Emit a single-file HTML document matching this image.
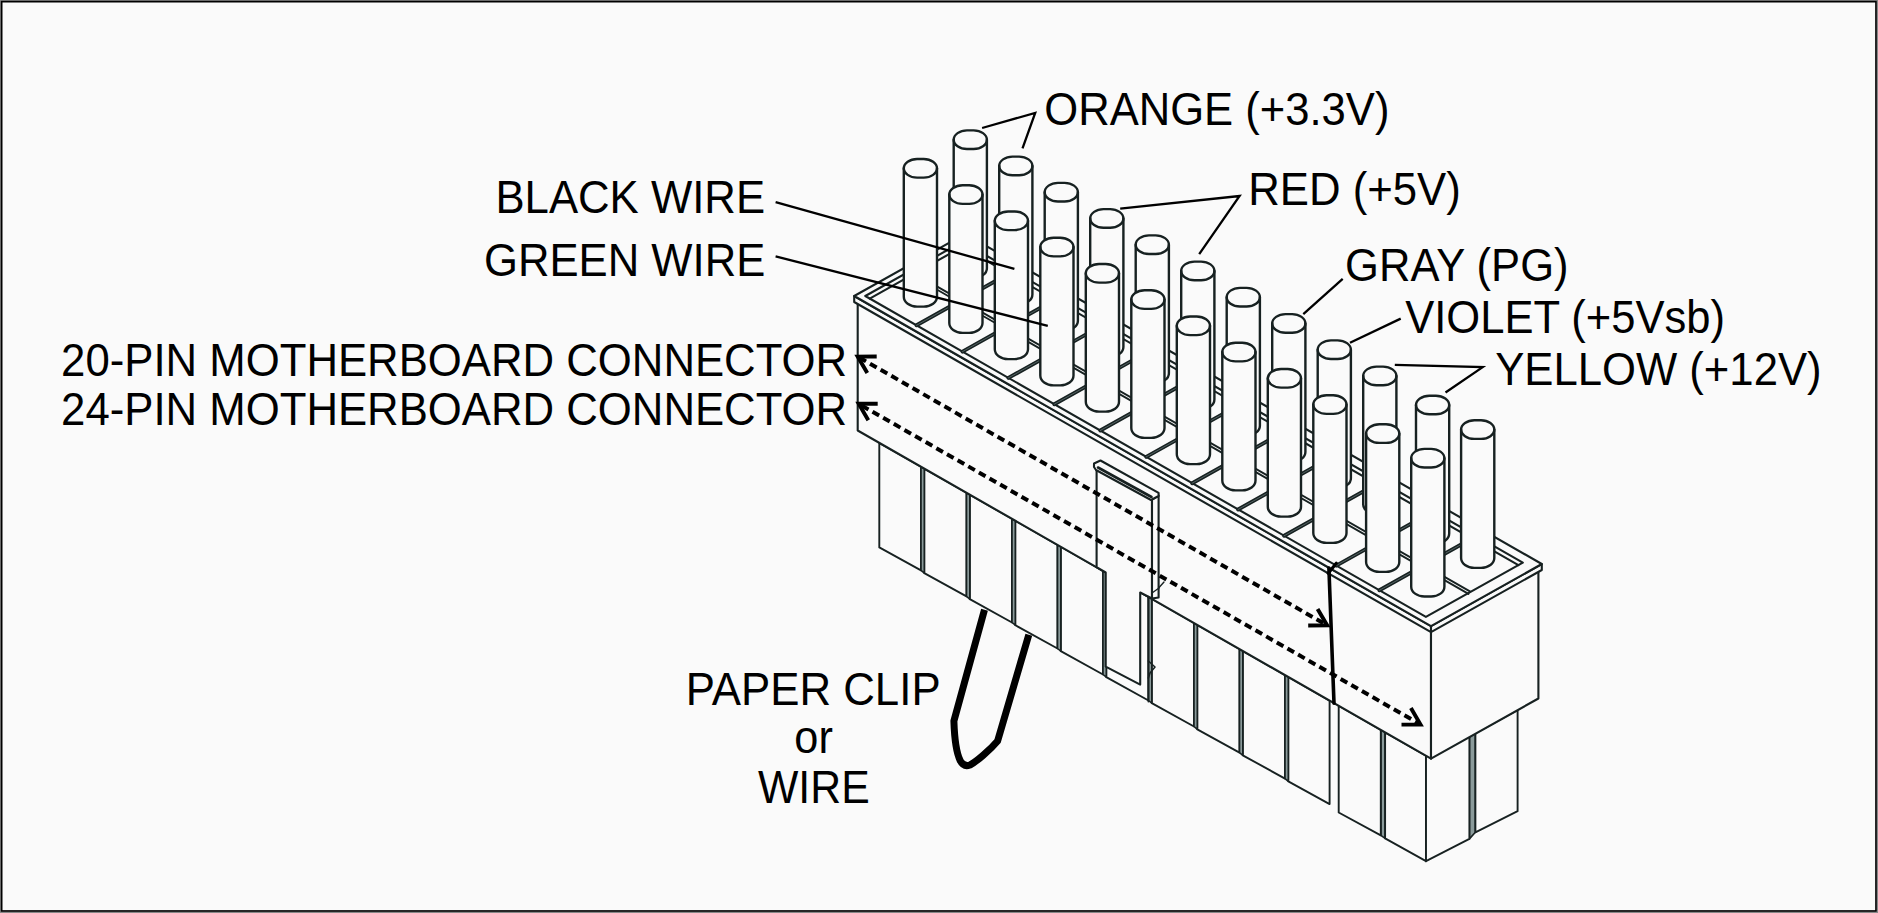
<!DOCTYPE html>
<html><head><meta charset="utf-8"><title>ATX 20/24-pin connector paper clip test</title>
<style>
html,body{margin:0;padding:0;background:#fafafa;}
body{width:1878px;height:913px;overflow:hidden;}
svg{display:block;}
text{font-family:"Liberation Sans",sans-serif;font-size:46px;fill:#000;}
</style></head><body>
<svg width="1878" height="913" viewBox="0 0 1878 913">
<rect x="0" y="0" width="1878" height="913" fill="#fafafa"/>
<rect x="0.5" y="0.5" width="1877" height="912" fill="none" stroke="#888" stroke-width="1"/>
<rect x="1.65" y="1.65" width="1874.35" height="909.35" fill="none" stroke="#000" stroke-width="1.7"/>
<path d="M879.3,442.9 L921.0,466.7 L921.0,570.4 L879.3,547.4 Z" stroke="#172121" stroke-width="1.9" fill="#fafafa" stroke-linejoin="round" stroke-linecap="round"/>
<path d="M924.3,468.6 L966.5,492.8 L966.5,596.4 L924.3,573.1 Z" stroke="#172121" stroke-width="1.9" fill="#fafafa" stroke-linejoin="round" stroke-linecap="round"/>
<path d="M969.8,494.7 L1012.0,518.8 L1012.0,622.5 L969.8,599.2 Z" stroke="#172121" stroke-width="1.9" fill="#fafafa" stroke-linejoin="round" stroke-linecap="round"/>
<path d="M1015.3,520.7 L1057.5,544.9 L1057.5,648.5 L1015.3,625.2 Z" stroke="#172121" stroke-width="1.9" fill="#fafafa" stroke-linejoin="round" stroke-linecap="round"/>
<path d="M1060.8,546.8 L1103.0,570.9 L1103.0,674.5 L1060.8,651.2 Z" stroke="#172121" stroke-width="1.9" fill="#fafafa" stroke-linejoin="round" stroke-linecap="round"/>
<path d="M1106.3,572.8 L1148.5,597.0 L1148.5,700.5 L1106.3,677.2 Z" stroke="#172121" stroke-width="1.9" fill="#fafafa" stroke-linejoin="round" stroke-linecap="round"/>
<path d="M1151.8,598.8 L1194.0,623.0 L1194.0,726.5 L1151.8,703.2 Z" stroke="#172121" stroke-width="1.9" fill="#fafafa" stroke-linejoin="round" stroke-linecap="round"/>
<path d="M1197.3,624.9 L1239.5,649.0 L1239.5,752.6 L1197.3,729.3 Z" stroke="#172121" stroke-width="1.9" fill="#fafafa" stroke-linejoin="round" stroke-linecap="round"/>
<path d="M1242.8,650.9 L1285.0,675.1 L1285.0,778.6 L1242.8,755.3 Z" stroke="#172121" stroke-width="1.9" fill="#fafafa" stroke-linejoin="round" stroke-linecap="round"/>
<path d="M1288.3,677.0 L1329.6,700.6 L1329.6,804.1 L1288.3,781.3 Z" stroke="#172121" stroke-width="1.9" fill="#fafafa" stroke-linejoin="round" stroke-linecap="round"/>
<path d="M921.0,466.7 L924.3,468.6 L924.3,573.1 L921.0,570.4 Z" stroke="#172121" stroke-width="1.6" fill="#8a9a9a" stroke-linejoin="round" stroke-linecap="round"/>
<path d="M966.5,492.8 L969.8,494.7 L969.8,599.2 L966.5,596.4 Z" stroke="#172121" stroke-width="1.6" fill="#8a9a9a" stroke-linejoin="round" stroke-linecap="round"/>
<path d="M1012.0,518.8 L1015.3,520.7 L1015.3,625.2 L1012.0,622.5 Z" stroke="#172121" stroke-width="1.6" fill="#8a9a9a" stroke-linejoin="round" stroke-linecap="round"/>
<path d="M1057.5,544.9 L1060.8,546.8 L1060.8,651.2 L1057.5,648.5 Z" stroke="#172121" stroke-width="1.6" fill="#8a9a9a" stroke-linejoin="round" stroke-linecap="round"/>
<path d="M1103.0,570.9 L1106.3,572.8 L1106.3,677.2 L1103.0,674.5 Z" stroke="#172121" stroke-width="1.6" fill="#8a9a9a" stroke-linejoin="round" stroke-linecap="round"/>
<path d="M1148.5,597.0 L1151.8,598.8 L1151.8,703.2 L1148.5,700.5 Z" stroke="#172121" stroke-width="1.6" fill="#8a9a9a" stroke-linejoin="round" stroke-linecap="round"/>
<path d="M1194.0,623.0 L1197.3,624.9 L1197.3,729.3 L1194.0,726.5 Z" stroke="#172121" stroke-width="1.6" fill="#8a9a9a" stroke-linejoin="round" stroke-linecap="round"/>
<path d="M1239.5,649.0 L1242.8,650.9 L1242.8,755.3 L1239.5,752.6 Z" stroke="#172121" stroke-width="1.6" fill="#8a9a9a" stroke-linejoin="round" stroke-linecap="round"/>
<path d="M1285.0,675.1 L1288.3,677.0 L1288.3,781.3 L1285.0,778.6 Z" stroke="#172121" stroke-width="1.6" fill="#8a9a9a" stroke-linejoin="round" stroke-linecap="round"/>
<path d="M1380.8,729.9 L1385.1,732.4 L1385.1,838.4 L1380.8,835.3 Z" stroke="#172121" stroke-width="1.6" fill="#8a9a9a" stroke-linejoin="round" stroke-linecap="round"/>
<path d="M1469.4,736.4 L1475.4,733.1 L1475.4,832.3 L1469.4,838.9 Z" stroke="#172121" stroke-width="1.6" fill="#8a9a9a" stroke-linejoin="round" stroke-linecap="round"/>
<path d="M1338.7,705.8 L1380.8,729.9 L1380.8,835.3 L1338.7,812.5 Z" stroke="#172121" stroke-width="1.9" fill="#fafafa" stroke-linejoin="round" stroke-linecap="round"/>
<path d="M1385.1,732.4 L1426.0,755.8 L1426.0,861.2 L1385.1,838.4 Z" stroke="#172121" stroke-width="1.9" fill="#fafafa" stroke-linejoin="round" stroke-linecap="round"/>
<path d="M1426.0,755.8 L1469.4,736.4 L1469.4,838.9 L1426.0,861.2 Z" stroke="#172121" stroke-width="1.9" fill="#fafafa" stroke-linejoin="round" stroke-linecap="round"/>
<path d="M1475.4,733.1 L1517.6,709.9 L1517.6,811.2 L1475.4,832.3 Z" stroke="#172121" stroke-width="1.9" fill="#fafafa" stroke-linejoin="round" stroke-linecap="round"/>
<path d="M857.7,430.5 L1431.0,758.7 L1431.0,630.2 L857.7,302.0 Z" stroke="#172121" stroke-width="2.1" fill="#fafafa" stroke-linejoin="round" stroke-linecap="round"/>
<path d="M1431.0,758.7 L1538.4,698.5 L1538.4,570.0 L1431.0,630.2 Z" stroke="#172121" stroke-width="2.1" fill="#fafafa" stroke-linejoin="round" stroke-linecap="round"/>
<path d="M854.2,302.0 L1431.0,632.1 L1431.0,626.1 L854.2,296.0 Z" stroke="#172121" stroke-width="2.1" fill="#fafafa" stroke-linejoin="round" stroke-linecap="round"/>
<path d="M1431.0,632.1 L1541.8,570.0 L1541.8,564.0 L1431.0,626.1 Z" stroke="#172121" stroke-width="2.1" fill="#fafafa" stroke-linejoin="round" stroke-linecap="round"/>
<path d="M854.2,296.0 L1431.0,626.1 L1541.8,564.0 L965.1,233.9 Z" stroke="#172121" stroke-width="2.1" fill="#fafafa" stroke-linejoin="round" stroke-linecap="round"/>
<path d="M865.3,296.0 L1425.9,616.9 L1522.8,562.6 L962.2,241.8 Z" stroke="#172121" stroke-width="2.1" fill="none" stroke-linejoin="round" stroke-linecap="round"/>
<path d="M869.7,298.6 L962.2,246.8 L1518.4,565.1" stroke="#172121" stroke-width="2.1" fill="none" stroke-linejoin="round" stroke-linecap="round"/>
<path d="M962.2,246.8 L962.2,241.8" stroke="#172121" stroke-width="2.1" fill="none" stroke-linejoin="round" stroke-linecap="round"/>
<path d="M916.5,325.3 L1009.0,273.5" stroke="#172121" stroke-width="3.9" fill="none" stroke-linejoin="round" stroke-linecap="round"/>
<path d="M916.5,325.3 L1009.0,273.5" stroke="#6f8080" stroke-width="0.7" fill="none" stroke-linejoin="round" stroke-linecap="round"/>
<path d="M962.5,351.6 L1054.9,299.8" stroke="#172121" stroke-width="3.9" fill="none" stroke-linejoin="round" stroke-linecap="round"/>
<path d="M962.5,351.6 L1054.9,299.8" stroke="#6f8080" stroke-width="0.7" fill="none" stroke-linejoin="round" stroke-linecap="round"/>
<path d="M1008.4,377.9 L1100.9,326.1" stroke="#172121" stroke-width="3.9" fill="none" stroke-linejoin="round" stroke-linecap="round"/>
<path d="M1008.4,377.9 L1100.9,326.1" stroke="#6f8080" stroke-width="0.7" fill="none" stroke-linejoin="round" stroke-linecap="round"/>
<path d="M1054.3,404.2 L1146.8,352.4" stroke="#172121" stroke-width="3.9" fill="none" stroke-linejoin="round" stroke-linecap="round"/>
<path d="M1054.3,404.2 L1146.8,352.4" stroke="#6f8080" stroke-width="0.7" fill="none" stroke-linejoin="round" stroke-linecap="round"/>
<path d="M1100.3,430.5 L1192.8,378.8" stroke="#172121" stroke-width="3.9" fill="none" stroke-linejoin="round" stroke-linecap="round"/>
<path d="M1100.3,430.5 L1192.8,378.8" stroke="#6f8080" stroke-width="0.7" fill="none" stroke-linejoin="round" stroke-linecap="round"/>
<path d="M1146.2,456.9 L1238.7,405.1" stroke="#172121" stroke-width="3.9" fill="none" stroke-linejoin="round" stroke-linecap="round"/>
<path d="M1146.2,456.9 L1238.7,405.1" stroke="#6f8080" stroke-width="0.7" fill="none" stroke-linejoin="round" stroke-linecap="round"/>
<path d="M1192.2,483.2 L1284.7,431.4" stroke="#172121" stroke-width="3.9" fill="none" stroke-linejoin="round" stroke-linecap="round"/>
<path d="M1192.2,483.2 L1284.7,431.4" stroke="#6f8080" stroke-width="0.7" fill="none" stroke-linejoin="round" stroke-linecap="round"/>
<path d="M1238.1,509.5 L1330.6,457.7" stroke="#172121" stroke-width="3.9" fill="none" stroke-linejoin="round" stroke-linecap="round"/>
<path d="M1238.1,509.5 L1330.6,457.7" stroke="#6f8080" stroke-width="0.7" fill="none" stroke-linejoin="round" stroke-linecap="round"/>
<path d="M1284.1,535.8 L1376.6,484.0" stroke="#172121" stroke-width="3.9" fill="none" stroke-linejoin="round" stroke-linecap="round"/>
<path d="M1284.1,535.8 L1376.6,484.0" stroke="#6f8080" stroke-width="0.7" fill="none" stroke-linejoin="round" stroke-linecap="round"/>
<path d="M1336.3,565.6 L1428.8,513.8" stroke="#172121" stroke-width="3.9" fill="none" stroke-linejoin="round" stroke-linecap="round"/>
<path d="M1336.3,565.6 L1428.8,513.8" stroke="#6f8080" stroke-width="0.7" fill="none" stroke-linejoin="round" stroke-linecap="round"/>
<path d="M1379.4,590.3 L1471.9,538.5" stroke="#172121" stroke-width="3.9" fill="none" stroke-linejoin="round" stroke-linecap="round"/>
<path d="M1379.4,590.3 L1471.9,538.5" stroke="#6f8080" stroke-width="0.7" fill="none" stroke-linejoin="round" stroke-linecap="round"/>
<path d="M913.7,273.1 L1469.9,591.4" stroke="#172121" stroke-width="1.9" fill="none" stroke-linejoin="round" stroke-linecap="round"/>
<path d="M912.3,275.5 L1468.5,593.9" stroke="#172121" stroke-width="1.9" fill="none" stroke-linejoin="round" stroke-linecap="round"/>
<path d="M953.70,139.70 L953.70,268.20 C953.70,273.61 959.65,278.00 966.98,278.00 L973.62,278.00 C980.95,278.00 986.90,273.61 986.90,268.20 L986.90,139.70 C986.90,134.57 980.95,130.40 973.62,130.40 L966.98,130.40 C959.65,130.40 953.70,134.57 953.70,139.70 Z" stroke="#172121" stroke-width="2.4" fill="#fafafa" stroke-linejoin="round" stroke-linecap="round"/>
<path d="M953.70,139.70 C953.70,144.83 959.65,149.00 966.98,149.00 L973.62,149.00 C980.95,149.00 986.90,144.83 986.90,139.70" stroke="#172121" stroke-width="2.4" fill="none" stroke-linejoin="round" stroke-linecap="round"/>
<path d="M999.20,165.95 L999.20,294.45 C999.20,299.86 1005.15,304.25 1012.48,304.25 L1019.12,304.25 C1026.45,304.25 1032.40,299.86 1032.40,294.45 L1032.40,165.95 C1032.40,160.82 1026.45,156.65 1019.12,156.65 L1012.48,156.65 C1005.15,156.65 999.20,160.82 999.20,165.95 Z" stroke="#172121" stroke-width="2.4" fill="#fafafa" stroke-linejoin="round" stroke-linecap="round"/>
<path d="M999.20,165.95 C999.20,171.08 1005.15,175.25 1012.48,175.25 L1019.12,175.25 C1026.45,175.25 1032.40,171.08 1032.40,165.95" stroke="#172121" stroke-width="2.4" fill="none" stroke-linejoin="round" stroke-linecap="round"/>
<path d="M1044.70,192.20 L1044.70,320.70 C1044.70,326.11 1050.65,330.50 1057.98,330.50 L1064.62,330.50 C1071.95,330.50 1077.90,326.11 1077.90,320.70 L1077.90,192.20 C1077.90,187.07 1071.95,182.90 1064.62,182.90 L1057.98,182.90 C1050.65,182.90 1044.70,187.07 1044.70,192.20 Z" stroke="#172121" stroke-width="2.4" fill="#fafafa" stroke-linejoin="round" stroke-linecap="round"/>
<path d="M1044.70,192.20 C1044.70,197.33 1050.65,201.50 1057.98,201.50 L1064.62,201.50 C1071.95,201.50 1077.90,197.33 1077.90,192.20" stroke="#172121" stroke-width="2.4" fill="none" stroke-linejoin="round" stroke-linecap="round"/>
<path d="M1090.20,218.45 L1090.20,346.95 C1090.20,352.36 1096.15,356.75 1103.48,356.75 L1110.12,356.75 C1117.45,356.75 1123.40,352.36 1123.40,346.95 L1123.40,218.45 C1123.40,213.32 1117.45,209.15 1110.12,209.15 L1103.48,209.15 C1096.15,209.15 1090.20,213.32 1090.20,218.45 Z" stroke="#172121" stroke-width="2.4" fill="#fafafa" stroke-linejoin="round" stroke-linecap="round"/>
<path d="M1090.20,218.45 C1090.20,223.58 1096.15,227.75 1103.48,227.75 L1110.12,227.75 C1117.45,227.75 1123.40,223.58 1123.40,218.45" stroke="#172121" stroke-width="2.4" fill="none" stroke-linejoin="round" stroke-linecap="round"/>
<path d="M1135.70,244.70 L1135.70,373.20 C1135.70,378.61 1141.65,383.00 1148.98,383.00 L1155.62,383.00 C1162.95,383.00 1168.90,378.61 1168.90,373.20 L1168.90,244.70 C1168.90,239.57 1162.95,235.40 1155.62,235.40 L1148.98,235.40 C1141.65,235.40 1135.70,239.57 1135.70,244.70 Z" stroke="#172121" stroke-width="2.4" fill="#fafafa" stroke-linejoin="round" stroke-linecap="round"/>
<path d="M1135.70,244.70 C1135.70,249.83 1141.65,254.00 1148.98,254.00 L1155.62,254.00 C1162.95,254.00 1168.90,249.83 1168.90,244.70" stroke="#172121" stroke-width="2.4" fill="none" stroke-linejoin="round" stroke-linecap="round"/>
<path d="M1181.20,270.95 L1181.20,399.45 C1181.20,404.86 1187.15,409.25 1194.48,409.25 L1201.12,409.25 C1208.45,409.25 1214.40,404.86 1214.40,399.45 L1214.40,270.95 C1214.40,265.82 1208.45,261.65 1201.12,261.65 L1194.48,261.65 C1187.15,261.65 1181.20,265.82 1181.20,270.95 Z" stroke="#172121" stroke-width="2.4" fill="#fafafa" stroke-linejoin="round" stroke-linecap="round"/>
<path d="M1181.20,270.95 C1181.20,276.08 1187.15,280.25 1194.48,280.25 L1201.12,280.25 C1208.45,280.25 1214.40,276.08 1214.40,270.95" stroke="#172121" stroke-width="2.4" fill="none" stroke-linejoin="round" stroke-linecap="round"/>
<path d="M1226.70,297.20 L1226.70,425.70 C1226.70,431.11 1232.65,435.50 1239.98,435.50 L1246.62,435.50 C1253.95,435.50 1259.90,431.11 1259.90,425.70 L1259.90,297.20 C1259.90,292.07 1253.95,287.90 1246.62,287.90 L1239.98,287.90 C1232.65,287.90 1226.70,292.07 1226.70,297.20 Z" stroke="#172121" stroke-width="2.4" fill="#fafafa" stroke-linejoin="round" stroke-linecap="round"/>
<path d="M1226.70,297.20 C1226.70,302.33 1232.65,306.50 1239.98,306.50 L1246.62,306.50 C1253.95,306.50 1259.90,302.33 1259.90,297.20" stroke="#172121" stroke-width="2.4" fill="none" stroke-linejoin="round" stroke-linecap="round"/>
<path d="M1272.20,323.45 L1272.20,451.95 C1272.20,457.36 1278.15,461.75 1285.48,461.75 L1292.12,461.75 C1299.45,461.75 1305.40,457.36 1305.40,451.95 L1305.40,323.45 C1305.40,318.32 1299.45,314.15 1292.12,314.15 L1285.48,314.15 C1278.15,314.15 1272.20,318.32 1272.20,323.45 Z" stroke="#172121" stroke-width="2.4" fill="#fafafa" stroke-linejoin="round" stroke-linecap="round"/>
<path d="M1272.20,323.45 C1272.20,328.58 1278.15,332.75 1285.48,332.75 L1292.12,332.75 C1299.45,332.75 1305.40,328.58 1305.40,323.45" stroke="#172121" stroke-width="2.4" fill="none" stroke-linejoin="round" stroke-linecap="round"/>
<path d="M1317.70,349.70 L1317.70,478.20 C1317.70,483.61 1323.65,488.00 1330.98,488.00 L1337.62,488.00 C1344.95,488.00 1350.90,483.61 1350.90,478.20 L1350.90,349.70 C1350.90,344.57 1344.95,340.40 1337.62,340.40 L1330.98,340.40 C1323.65,340.40 1317.70,344.57 1317.70,349.70 Z" stroke="#172121" stroke-width="2.4" fill="#fafafa" stroke-linejoin="round" stroke-linecap="round"/>
<path d="M1317.70,349.70 C1317.70,354.83 1323.65,359.00 1330.98,359.00 L1337.62,359.00 C1344.95,359.00 1350.90,354.83 1350.90,349.70" stroke="#172121" stroke-width="2.4" fill="none" stroke-linejoin="round" stroke-linecap="round"/>
<path d="M1363.20,375.95 L1363.20,504.45 C1363.20,509.86 1369.15,514.25 1376.48,514.25 L1383.12,514.25 C1390.45,514.25 1396.40,509.86 1396.40,504.45 L1396.40,375.95 C1396.40,370.82 1390.45,366.65 1383.12,366.65 L1376.48,366.65 C1369.15,366.65 1363.20,370.82 1363.20,375.95 Z" stroke="#172121" stroke-width="2.4" fill="#fafafa" stroke-linejoin="round" stroke-linecap="round"/>
<path d="M1363.20,375.95 C1363.20,381.08 1369.15,385.25 1376.48,385.25 L1383.12,385.25 C1390.45,385.25 1396.40,381.08 1396.40,375.95" stroke="#172121" stroke-width="2.4" fill="none" stroke-linejoin="round" stroke-linecap="round"/>
<path d="M1416.00,405.00 L1416.00,533.50 C1416.00,538.91 1421.95,543.30 1429.28,543.30 L1435.92,543.30 C1443.25,543.30 1449.20,538.91 1449.20,533.50 L1449.20,405.00 C1449.20,399.87 1443.25,395.70 1435.92,395.70 L1429.28,395.70 C1421.95,395.70 1416.00,399.87 1416.00,405.00 Z" stroke="#172121" stroke-width="2.4" fill="#fafafa" stroke-linejoin="round" stroke-linecap="round"/>
<path d="M1416.00,405.00 C1416.00,410.13 1421.95,414.30 1429.28,414.30 L1435.92,414.30 C1443.25,414.30 1449.20,410.13 1449.20,405.00" stroke="#172121" stroke-width="2.4" fill="none" stroke-linejoin="round" stroke-linecap="round"/>
<path d="M1461.10,429.60 L1461.10,558.10 C1461.10,563.51 1467.05,567.90 1474.38,567.90 L1481.02,567.90 C1488.35,567.90 1494.30,563.51 1494.30,558.10 L1494.30,429.60 C1494.30,424.47 1488.35,420.30 1481.02,420.30 L1474.38,420.30 C1467.05,420.30 1461.10,424.47 1461.10,429.60 Z" stroke="#172121" stroke-width="2.4" fill="#fafafa" stroke-linejoin="round" stroke-linecap="round"/>
<path d="M1461.10,429.60 C1461.10,434.73 1467.05,438.90 1474.38,438.90 L1481.02,438.90 C1488.35,438.90 1494.30,434.73 1494.30,429.60" stroke="#172121" stroke-width="2.4" fill="none" stroke-linejoin="round" stroke-linecap="round"/>
<path d="M903.80,168.30 L903.80,296.80 C903.80,302.21 909.75,306.60 917.08,306.60 L923.72,306.60 C931.05,306.60 937.00,302.21 937.00,296.80 L937.00,168.30 C937.00,163.17 931.05,159.00 923.72,159.00 L917.08,159.00 C909.75,159.00 903.80,163.17 903.80,168.30 Z" stroke="#172121" stroke-width="2.4" fill="#fafafa" stroke-linejoin="round" stroke-linecap="round"/>
<path d="M903.80,168.30 C903.80,173.43 909.75,177.60 917.08,177.60 L923.72,177.60 C931.05,177.60 937.00,173.43 937.00,168.30" stroke="#172121" stroke-width="2.4" fill="none" stroke-linejoin="round" stroke-linecap="round"/>
<path d="M949.30,194.55 L949.30,323.05 C949.30,328.46 955.25,332.85 962.58,332.85 L969.22,332.85 C976.55,332.85 982.50,328.46 982.50,323.05 L982.50,194.55 C982.50,189.42 976.55,185.25 969.22,185.25 L962.58,185.25 C955.25,185.25 949.30,189.42 949.30,194.55 Z" stroke="#172121" stroke-width="2.4" fill="#fafafa" stroke-linejoin="round" stroke-linecap="round"/>
<path d="M949.30,194.55 C949.30,199.68 955.25,203.85 962.58,203.85 L969.22,203.85 C976.55,203.85 982.50,199.68 982.50,194.55" stroke="#172121" stroke-width="2.4" fill="none" stroke-linejoin="round" stroke-linecap="round"/>
<path d="M994.80,220.80 L994.80,349.30 C994.80,354.71 1000.75,359.10 1008.08,359.10 L1014.72,359.10 C1022.05,359.10 1028.00,354.71 1028.00,349.30 L1028.00,220.80 C1028.00,215.67 1022.05,211.50 1014.72,211.50 L1008.08,211.50 C1000.75,211.50 994.80,215.67 994.80,220.80 Z" stroke="#172121" stroke-width="2.4" fill="#fafafa" stroke-linejoin="round" stroke-linecap="round"/>
<path d="M994.80,220.80 C994.80,225.93 1000.75,230.10 1008.08,230.10 L1014.72,230.10 C1022.05,230.10 1028.00,225.93 1028.00,220.80" stroke="#172121" stroke-width="2.4" fill="none" stroke-linejoin="round" stroke-linecap="round"/>
<path d="M1040.30,247.05 L1040.30,375.55 C1040.30,380.96 1046.25,385.35 1053.58,385.35 L1060.22,385.35 C1067.55,385.35 1073.50,380.96 1073.50,375.55 L1073.50,247.05 C1073.50,241.92 1067.55,237.75 1060.22,237.75 L1053.58,237.75 C1046.25,237.75 1040.30,241.92 1040.30,247.05 Z" stroke="#172121" stroke-width="2.4" fill="#fafafa" stroke-linejoin="round" stroke-linecap="round"/>
<path d="M1040.30,247.05 C1040.30,252.18 1046.25,256.35 1053.58,256.35 L1060.22,256.35 C1067.55,256.35 1073.50,252.18 1073.50,247.05" stroke="#172121" stroke-width="2.4" fill="none" stroke-linejoin="round" stroke-linecap="round"/>
<path d="M1085.80,273.30 L1085.80,401.80 C1085.80,407.21 1091.75,411.60 1099.08,411.60 L1105.72,411.60 C1113.05,411.60 1119.00,407.21 1119.00,401.80 L1119.00,273.30 C1119.00,268.17 1113.05,264.00 1105.72,264.00 L1099.08,264.00 C1091.75,264.00 1085.80,268.17 1085.80,273.30 Z" stroke="#172121" stroke-width="2.4" fill="#fafafa" stroke-linejoin="round" stroke-linecap="round"/>
<path d="M1085.80,273.30 C1085.80,278.43 1091.75,282.60 1099.08,282.60 L1105.72,282.60 C1113.05,282.60 1119.00,278.43 1119.00,273.30" stroke="#172121" stroke-width="2.4" fill="none" stroke-linejoin="round" stroke-linecap="round"/>
<path d="M1131.30,299.55 L1131.30,428.05 C1131.30,433.46 1137.25,437.85 1144.58,437.85 L1151.22,437.85 C1158.55,437.85 1164.50,433.46 1164.50,428.05 L1164.50,299.55 C1164.50,294.42 1158.55,290.25 1151.22,290.25 L1144.58,290.25 C1137.25,290.25 1131.30,294.42 1131.30,299.55 Z" stroke="#172121" stroke-width="2.4" fill="#fafafa" stroke-linejoin="round" stroke-linecap="round"/>
<path d="M1131.30,299.55 C1131.30,304.68 1137.25,308.85 1144.58,308.85 L1151.22,308.85 C1158.55,308.85 1164.50,304.68 1164.50,299.55" stroke="#172121" stroke-width="2.4" fill="none" stroke-linejoin="round" stroke-linecap="round"/>
<path d="M1176.80,325.80 L1176.80,454.30 C1176.80,459.71 1182.75,464.10 1190.08,464.10 L1196.72,464.10 C1204.05,464.10 1210.00,459.71 1210.00,454.30 L1210.00,325.80 C1210.00,320.67 1204.05,316.50 1196.72,316.50 L1190.08,316.50 C1182.75,316.50 1176.80,320.67 1176.80,325.80 Z" stroke="#172121" stroke-width="2.4" fill="#fafafa" stroke-linejoin="round" stroke-linecap="round"/>
<path d="M1176.80,325.80 C1176.80,330.93 1182.75,335.10 1190.08,335.10 L1196.72,335.10 C1204.05,335.10 1210.00,330.93 1210.00,325.80" stroke="#172121" stroke-width="2.4" fill="none" stroke-linejoin="round" stroke-linecap="round"/>
<path d="M1222.30,352.05 L1222.30,480.55 C1222.30,485.96 1228.25,490.35 1235.58,490.35 L1242.22,490.35 C1249.55,490.35 1255.50,485.96 1255.50,480.55 L1255.50,352.05 C1255.50,346.92 1249.55,342.75 1242.22,342.75 L1235.58,342.75 C1228.25,342.75 1222.30,346.92 1222.30,352.05 Z" stroke="#172121" stroke-width="2.4" fill="#fafafa" stroke-linejoin="round" stroke-linecap="round"/>
<path d="M1222.30,352.05 C1222.30,357.18 1228.25,361.35 1235.58,361.35 L1242.22,361.35 C1249.55,361.35 1255.50,357.18 1255.50,352.05" stroke="#172121" stroke-width="2.4" fill="none" stroke-linejoin="round" stroke-linecap="round"/>
<path d="M1267.80,378.30 L1267.80,506.80 C1267.80,512.21 1273.75,516.60 1281.08,516.60 L1287.72,516.60 C1295.05,516.60 1301.00,512.21 1301.00,506.80 L1301.00,378.30 C1301.00,373.17 1295.05,369.00 1287.72,369.00 L1281.08,369.00 C1273.75,369.00 1267.80,373.17 1267.80,378.30 Z" stroke="#172121" stroke-width="2.4" fill="#fafafa" stroke-linejoin="round" stroke-linecap="round"/>
<path d="M1267.80,378.30 C1267.80,383.43 1273.75,387.60 1281.08,387.60 L1287.72,387.60 C1295.05,387.60 1301.00,383.43 1301.00,378.30" stroke="#172121" stroke-width="2.4" fill="none" stroke-linejoin="round" stroke-linecap="round"/>
<path d="M1313.30,404.55 L1313.30,533.05 C1313.30,538.46 1319.25,542.85 1326.58,542.85 L1333.22,542.85 C1340.55,542.85 1346.50,538.46 1346.50,533.05 L1346.50,404.55 C1346.50,399.42 1340.55,395.25 1333.22,395.25 L1326.58,395.25 C1319.25,395.25 1313.30,399.42 1313.30,404.55 Z" stroke="#172121" stroke-width="2.4" fill="#fafafa" stroke-linejoin="round" stroke-linecap="round"/>
<path d="M1313.30,404.55 C1313.30,409.68 1319.25,413.85 1326.58,413.85 L1333.22,413.85 C1340.55,413.85 1346.50,409.68 1346.50,404.55" stroke="#172121" stroke-width="2.4" fill="none" stroke-linejoin="round" stroke-linecap="round"/>
<path d="M1366.10,433.60 L1366.10,562.10 C1366.10,567.51 1372.05,571.90 1379.38,571.90 L1386.02,571.90 C1393.35,571.90 1399.30,567.51 1399.30,562.10 L1399.30,433.60 C1399.30,428.47 1393.35,424.30 1386.02,424.30 L1379.38,424.30 C1372.05,424.30 1366.10,428.47 1366.10,433.60 Z" stroke="#172121" stroke-width="2.4" fill="#fafafa" stroke-linejoin="round" stroke-linecap="round"/>
<path d="M1366.10,433.60 C1366.10,438.73 1372.05,442.90 1379.38,442.90 L1386.02,442.90 C1393.35,442.90 1399.30,438.73 1399.30,433.60" stroke="#172121" stroke-width="2.4" fill="none" stroke-linejoin="round" stroke-linecap="round"/>
<path d="M1411.20,458.20 L1411.20,586.70 C1411.20,592.11 1417.15,596.50 1424.48,596.50 L1431.12,596.50 C1438.45,596.50 1444.40,592.11 1444.40,586.70 L1444.40,458.20 C1444.40,453.07 1438.45,448.90 1431.12,448.90 L1424.48,448.90 C1417.15,448.90 1411.20,453.07 1411.20,458.20 Z" stroke="#172121" stroke-width="2.4" fill="#fafafa" stroke-linejoin="round" stroke-linecap="round"/>
<path d="M1411.20,458.20 C1411.20,463.33 1417.15,467.50 1424.48,467.50 L1431.12,467.50 C1438.45,467.50 1444.40,463.33 1444.40,458.20" stroke="#172121" stroke-width="2.4" fill="none" stroke-linejoin="round" stroke-linecap="round"/>
<path d="M1328.2,573.3 L1336.3,563.3" stroke="#000" stroke-width="3.2" fill="none" stroke-linejoin="round" stroke-linecap="round"/>
<path d="M1328.9,568.0 L1334.0,703.3" stroke="#000" stroke-width="3.6" fill="none" stroke-linejoin="round" stroke-linecap="round"/>
<path d="M1096.6,469.0 L1152.0,499.5 L1152.0,598.5 L1148.4,596.6 L1140.2,592.5 L1140.2,684.6 L1105.7,666.6 L1105.7,572.5 L1096.6,567.2 Z" stroke="#172121" stroke-width="2.1" fill="#fafafa" stroke-linejoin="round" stroke-linecap="round"/>
<path d="M1152.0,499.5 L1158.6,495.5 L1158.6,597.5 L1152.0,598.5 Z" stroke="#172121" stroke-width="2.1" fill="#fafafa" stroke-linejoin="round" stroke-linecap="round"/>
<path d="M1148.4,596.6 L1148.4,701.5" stroke="#172121" stroke-width="1.8" fill="none" stroke-linejoin="round" stroke-linecap="round"/>
<path d="M1094.0,463.5 L1100.5,460.5 L1158.6,492.8 L1158.6,496.0 L1151.0,500.0 L1096.0,470.0 L1094.0,467.0 Z" stroke="#172121" stroke-width="2.1" fill="#fafafa" stroke-linejoin="round" stroke-linecap="round"/>
<path d="M1098.0,467.5 L1151.5,497.0" stroke="#172121" stroke-width="2.6" fill="none" stroke-linejoin="round" stroke-linecap="round"/>
<path d="M1148.4,661 L1155,667 L1150,673 L1148.4,678" stroke="#172121" stroke-width="1.6" fill="none" stroke-linejoin="round" stroke-linecap="round"/>
<path d="M1158.6,588 L1164,582" stroke="#172121" stroke-width="1.4" fill="none" stroke-linejoin="round" stroke-linecap="round"/>
<path d="M1152,593 L1159,588" stroke="#172121" stroke-width="1.4" fill="none" stroke-linejoin="round" stroke-linecap="round"/>
<line x1="859.4" y1="357.6" x2="1325.5" y2="624.4" stroke="#000" stroke-width="4.0" stroke-dasharray="7.6 4.65" stroke-dashoffset="-0.00"/>
<path d="M876.7,356.5 L857.7,356.6 L867.3,373.0" stroke="#000" stroke-width="3.9" fill="none" stroke-linecap="butt" stroke-linejoin="miter" stroke-miterlimit="10"/>
<path d="M1308.2,625.5 L1327.2,625.4 L1317.6,609.0" stroke="#000" stroke-width="3.9" fill="none" stroke-linecap="butt" stroke-linejoin="miter" stroke-miterlimit="10"/>
<line x1="860.4" y1="404.8" x2="1418.8" y2="723.5" stroke="#000" stroke-width="4.0" stroke-dasharray="7.6 4.65" stroke-dashoffset="-1.70"/>
<path d="M877.7,403.7 L858.7,403.8 L868.3,420.2" stroke="#000" stroke-width="3.9" fill="none" stroke-linecap="butt" stroke-linejoin="miter" stroke-miterlimit="10"/>
<path d="M1401.5,724.6 L1420.5,724.5 L1410.9,708.1" stroke="#000" stroke-width="3.9" fill="none" stroke-linecap="butt" stroke-linejoin="miter" stroke-miterlimit="10"/>
<path d="M984.5,609.8 L953.9,721 C954.5,740 956,752 960.2,760.6 C962.5,765 966,766.5 970,765 C976,762 990,750 997.6,740.9 L1028.8,634.7" stroke="#000" stroke-width="7.0" fill="none" stroke-linecap="butt" stroke-linejoin="round"/>
<path d="M982.1,128.0 L1035.2,112.9 L1022.5,148.3" stroke="#000" stroke-width="2.3" fill="none" stroke-linecap="butt" stroke-linejoin="miter"/>
<path d="M1120.2,208.6 L1239.6,196.0 L1199.2,254.1" stroke="#000" stroke-width="2.3" fill="none" stroke-linecap="butt" stroke-linejoin="miter"/>
<path d="M1342.7,278.8 L1303.3,314.1" stroke="#000" stroke-width="2.3" fill="none" stroke-linecap="butt" stroke-linejoin="miter"/>
<path d="M1400.7,318.6 L1350.0,342.7" stroke="#000" stroke-width="2.3" fill="none" stroke-linecap="butt" stroke-linejoin="miter"/>
<path d="M1394.8,364.8 L1482.7,367.1 L1445.5,392.5" stroke="#000" stroke-width="2.3" fill="none" stroke-linecap="butt" stroke-linejoin="miter"/>
<path d="M775.6,202.2 L1014.4,268.9" stroke="#000" stroke-width="2.3" fill="none" stroke-linecap="butt" stroke-linejoin="miter"/>
<path d="M775.6,256.3 L1047.8,325.9" stroke="#000" stroke-width="2.3" fill="none" stroke-linecap="butt" stroke-linejoin="miter"/>
<text x="61.11" y="376.0" textLength="786.05" lengthAdjust="spacingAndGlyphs">20-PIN MOTHERBOARD CONNECTOR</text>
<text x="61.11" y="425.0" textLength="786.05" lengthAdjust="spacingAndGlyphs">24-PIN MOTHERBOARD CONNECTOR</text>
<text x="495.42" y="213.2" textLength="269.66" lengthAdjust="spacingAndGlyphs">BLACK WIRE</text>
<text x="484.02" y="275.7" textLength="281.25" lengthAdjust="spacingAndGlyphs">GREEN WIRE</text>
<text x="1044.31" y="124.6" textLength="345.11" lengthAdjust="spacingAndGlyphs">ORANGE (+3.3V)</text>
<text x="1248.22" y="204.7" textLength="212.62" lengthAdjust="spacingAndGlyphs">RED (+5V)</text>
<text x="1345.12" y="280.8" textLength="223.41" lengthAdjust="spacingAndGlyphs">GRAY (PG)</text>
<text x="1405.20" y="333.0" textLength="319.80" lengthAdjust="spacingAndGlyphs">VIOLET (+5Vsb)</text>
<text x="1495.21" y="385.1" textLength="326.39" lengthAdjust="spacingAndGlyphs">YELLOW (+12V)</text>
<text x="685.81" y="704.9" textLength="254.83" lengthAdjust="spacingAndGlyphs">PAPER CLIP</text>
<text x="794.32" y="753.1" textLength="38.51" lengthAdjust="spacingAndGlyphs">or</text>
<text x="758.00" y="802.5" textLength="111.67" lengthAdjust="spacingAndGlyphs">WIRE</text>
</svg>
</body></html>
